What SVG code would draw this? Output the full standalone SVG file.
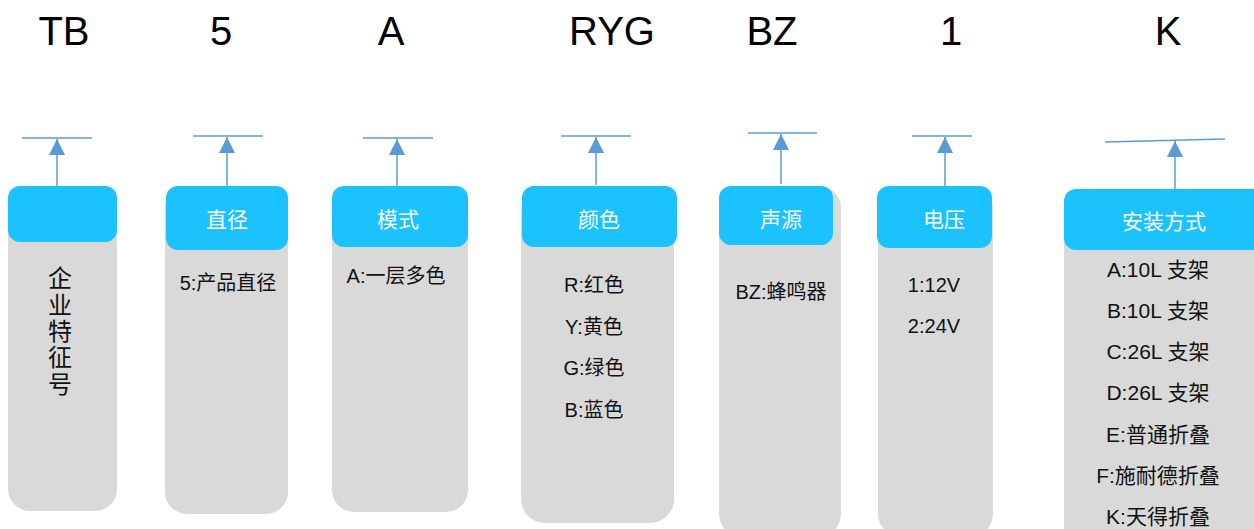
<svg xmlns="http://www.w3.org/2000/svg" width="1254" height="529" viewBox="0 0 1254 529">
<defs>
<style>
.body{fill:#d9d9d9}
.head{fill:#1cc2fe}
.code{font-family:"Liberation Sans","Noto Sans CJK SC",sans-serif;font-size:40px;fill:#000;text-anchor:middle}
.ht{font-family:"Liberation Sans","Noto Sans CJK SC",sans-serif;font-size:21px;fill:#fff;text-anchor:middle}
.bt{font-family:"Liberation Sans","Noto Sans CJK SC",sans-serif;font-size:20px;fill:#111;text-anchor:middle}
.mt{font-family:"Liberation Sans","Noto Sans CJK SC",sans-serif;font-size:21px;fill:#111;text-anchor:middle}
.vt{font-family:"Noto Sans CJK SC",sans-serif;font-size:24px;fill:#111;writing-mode:vertical-rl;letter-spacing:2.4px}
.ln{stroke:#5b9bd5;stroke-width:1.5;fill:none}
</style>
<marker id="arrB" viewBox="0 0 16 16" refX="16" refY="8" markerWidth="16" markerHeight="16" markerUnits="userSpaceOnUse" orient="auto">
<path d="M0,0 L16,8 L0,16 Z" fill="#5b9bd5"/>
</marker>
</defs>
<rect width="1254" height="529" fill="#fff"/>

<g id="codes">
<text class="code" x="64" y="45">TB</text>
<text class="code" x="221" y="45">5</text>
<text class="code" x="391" y="45">A</text>
<text class="code" x="612" y="45">RYG</text>
<text class="code" x="772" y="45">BZ</text>
<text class="code" x="951" y="45">1</text>
<text class="code" x="1168" y="45">K</text>
</g>

<g id="connectors">
<line class="ln" x1="22" y1="138" x2="92" y2="138"/>
<line class="ln" x1="57" y1="186" x2="57" y2="139" marker-end="url(#arrB)"/>
<line class="ln" x1="193" y1="136" x2="263" y2="136"/>
<line class="ln" x1="227" y1="186" x2="227" y2="137" marker-end="url(#arrB)"/>
<line class="ln" x1="363" y1="138" x2="433" y2="138"/>
<line class="ln" x1="397" y1="186" x2="397" y2="139" marker-end="url(#arrB)"/>
<line class="ln" x1="561" y1="136" x2="631" y2="136"/>
<line class="ln" x1="596" y1="185" x2="596" y2="137" marker-end="url(#arrB)"/>
<line class="ln" x1="748" y1="133" x2="817" y2="133"/>
<line class="ln" x1="781" y1="184" x2="781" y2="134" marker-end="url(#arrB)"/>
<line class="ln" x1="912" y1="136" x2="972" y2="136"/>
<line class="ln" x1="945" y1="186" x2="945" y2="137" marker-end="url(#arrB)"/>
<line class="ln" x1="1105" y1="142" x2="1225" y2="139"/>
<line class="ln" x1="1175" y1="189" x2="1175" y2="141" marker-end="url(#arrB)"/>
</g>

<g id="node-tb">
<rect class="body" x="8" y="186" width="109" height="325" rx="22"/>
<rect class="head" x="8" y="186" width="109" height="56" rx="12"/>
<text class="vt" x="60" y="266">企业特征号</text>
</g>

<g id="node-diameter">
<rect class="body" x="165" y="186" width="123" height="328" rx="22"/>
<rect class="head" x="166" y="186" width="122" height="64" rx="12"/>
<text class="ht" x="227" y="227">直径</text>
<text class="bt" x="228" y="290">5:产品直径</text>
</g>

<g id="node-mode">
<rect class="body" x="332" y="186" width="136" height="326" rx="22"/>
<rect class="head" x="332" y="186" width="136" height="61" rx="12"/>
<text class="ht" x="398" y="227">模式</text>
<text class="bt" x="396" y="283">A:一层多色</text>
</g>

<g id="node-color">
<rect class="body" x="521" y="186" width="153" height="337" rx="24"/>
<rect class="head" x="522" y="186" width="155" height="61" rx="12"/>
<text class="ht" x="599" y="227">颜色</text>
<text class="bt" x="594" y="292">R:红色</text>
<text class="bt" x="594" y="334">Y:黄色</text>
<text class="bt" x="594" y="375">G:绿色</text>
<text class="bt" x="594" y="417">B:蓝色</text>
</g>

<g id="node-sound">
<rect class="body" x="719" y="186" width="122" height="350" rx="22"/>
<rect class="head" x="719" y="186" width="114" height="59" rx="12"/>
<text class="ht" x="781" y="227">声源</text>
<text class="bt" x="781" y="299">BZ:蜂鸣器</text>
</g>

<g id="node-voltage">
<rect class="body" x="878" y="186" width="115" height="350" rx="22"/>
<rect class="head" x="877" y="186" width="115" height="62" rx="12"/>
<text class="ht" x="944" y="227">电压</text>
<text class="bt" x="934" y="292">1:12V</text>
<text class="bt" x="934" y="333">2:24V</text>
</g>

<g id="node-mount">
<rect class="body" x="1064" y="189" width="210" height="360" rx="22"/>
<rect class="head" x="1064" y="189" width="210" height="61" rx="12"/>
<text class="ht" x="1164" y="229">安装方式</text>
<text class="mt" x="1158" y="277">A:10L 支架</text>
<text class="mt" x="1158" y="318">B:10L 支架</text>
<text class="mt" x="1158" y="359">C:26L 支架</text>
<text class="mt" x="1158" y="400">D:26L 支架</text>
<text class="mt" x="1158" y="442">E:普通折叠</text>
<text class="mt" x="1158" y="483">F:施耐德折叠</text>
<text class="mt" x="1158" y="524">K:天得折叠</text>
</g>
</svg>
